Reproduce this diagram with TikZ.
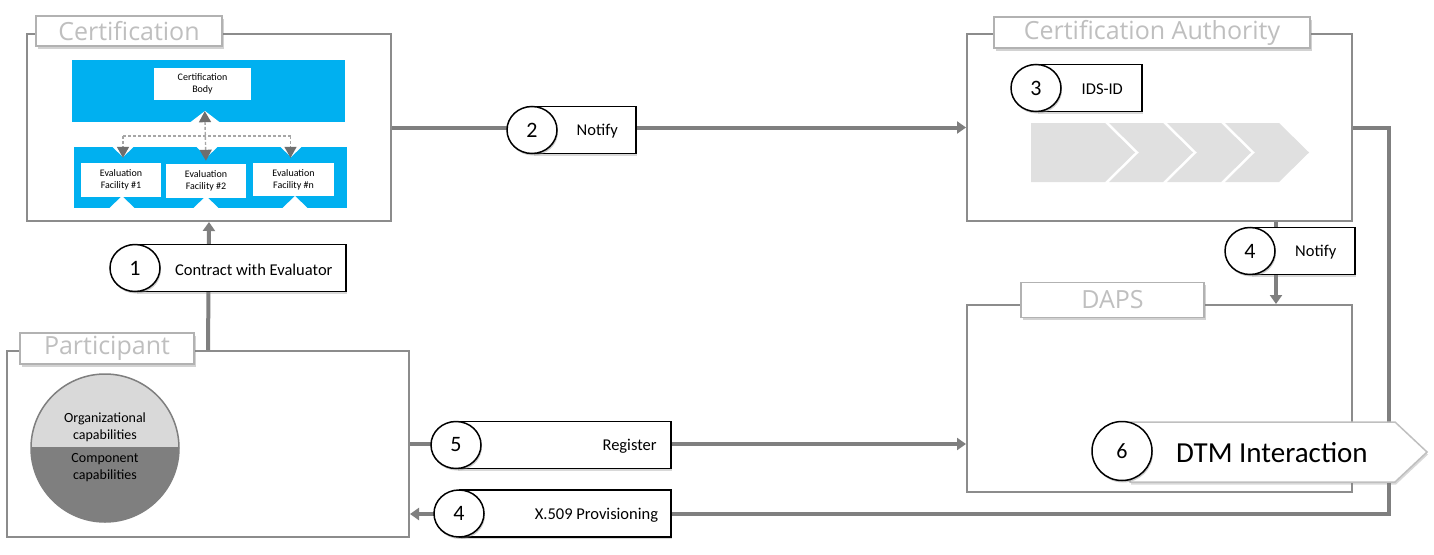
\documentclass[tikz,border=0pt]{standalone}
\usepackage{fontspec}
\setmainfont{Carlito}
\newfontfamily\titlefont{Open Sans}
\usetikzlibrary{arrows.meta,calc,shapes.geometric,shadows}

\definecolor{linegray}{HTML}{7F7F7F}
\definecolor{boxgray}{HTML}{8C8C8C}
\definecolor{titlegray}{HTML}{BFBFBF}
\definecolor{idsblue}{HTML}{00B0F0}
\definecolor{chevgray}{HTML}{E0E0E0}
\definecolor{lightcap}{HTML}{D9D9D9}
\definecolor{darkcap}{HTML}{7F7F7F}
\definecolor{tipgray}{HTML}{6E6E6E}

\tikzset{
  box/.style={draw=boxgray, line width=2pt, fill=white, inner sep=0pt},
  tab/.style={draw=titlegray!80!gray, line width=1.5pt, fill=white, inner sep=0pt,
    text=titlegray, font=\titlefont\fontsize{25}{28}\selectfont,
    drop shadow={opacity=0.35, shadow xshift=1.5pt, shadow yshift=-2.5pt}},
  flow/.style={draw=linegray, line width=4pt, -{Triangle[width=12pt,length=9pt]}},
  dashline/.style={draw=gray!70, line width=1.4pt, dash pattern=on 3pt off 2pt},
  dtip/.style={-{Triangle[width=12pt,length=11pt,color=tipgray]}},
  facility/.style={fill=white, inner sep=0pt, align=center,
    font=\fontsize{10}{12}\selectfont},
  steprect/.style={draw=black, line width=1.8pt, fill=white, minimum height=47pt,
    inner sep=0pt, drop shadow={opacity=0.3, shadow xshift=1pt, shadow yshift=-2pt}},
  stepcircle/.style={ellipse, draw=black, line width=1.5pt, fill=white,
    minimum width=50pt, minimum height=47pt, inner sep=0pt,
    font=\fontsize{22}{24}\selectfont,
    drop shadow={opacity=0.4, shadow xshift=1pt, shadow yshift=-2pt}},
  steptext/.style={font=\fontsize{16.5}{18}\selectfont, inner sep=0pt},
  captext/.style={align=center, inner sep=0pt, font=\fontsize{14}{17}\selectfont},
}

% numbered step: [text options]{name}{circle centre}{number}{width}{text}
\newcommand{\stepmark}[6][]{%
  \node[steprect, minimum width=#5, anchor=west] (#2r) at (#3) {};
  \node[stepcircle] (#2c) at (#3) {#4};
  \node[steptext, #1] (#2t) at ($(#2c.east)!0.5!(#2r.east)+(0,1.5)$) {#6};
}

\begin{document}
\begin{tikzpicture}[x=1pt, y=-1pt]
  \useasboundingbox[fill=white] (0,0) rectangle (1434,554);

  % Boxes
  \node[box, minimum width=364pt, minimum height=187pt] (cert) at (209,127.5) {};
  \node[box, minimum width=385pt, minimum height=187pt] (ca) at (1159.5,127.5) {};
  \node[box, minimum width=385pt, minimum height=187pt] (daps) at (1159.5,398.5) {};
  \node[box, minimum width=402pt, minimum height=186pt] (part) at (208,444) {};

  % Titles
  \node[tab, minimum width=186pt, minimum height=30pt] (certT) at (129,31) {Certification};
  \node[tab, minimum width=316pt, minimum height=31pt] (caT) at (1152,32.5) {Certification Authority};
  \node[tab, minimum width=183pt, minimum height=35pt] (dapsT) at (1112.5,300) {DAPS};
  \node[tab, minimum width=174pt, minimum height=31pt] (partT) at (107,348.5) {Participant};

  % Certification body and evaluation facilities
  \fill[idsblue] (72,60) rectangle (345,122);
  \fill[white] (190,122.5) -- (205,111) -- (220,122.5) -- cycle;
  \fill[idsblue] (74,147) rectangle (347,208);
  \foreach \x in {123,207,291}
    \fill[white] (\x-11,146.5) -- (\x,157) -- (\x+11,146.5) -- cycle;
  \foreach \x in {122,206,295}
    \fill[white] (\x-13,208.5) -- (\x,196) -- (\x+13,208.5) -- cycle;
  \node[facility, minimum width=97pt, minimum height=32pt] (body) at (202.5,84) {Certification\\Body};
  \node[facility, minimum width=80pt, minimum height=34pt] (fac1) at (121,180) {Evaluation\\Facility \#1};
  \node[facility, minimum width=80pt, minimum height=34pt] (fac2) at (206,181) {Evaluation\\Facility \#2};
  \node[facility, minimum width=81pt, minimum height=33pt] (facn) at (293.5,179.5) {Evaluation\\Facility \#n};

  \coordinate (hub) at (206,136);
  \draw[dashline] ([xshift=2pt]hub -| fac1.north) -- ([xshift=-3pt]hub -| facn.north);
  \draw[dashline, dtip, shorten >=5pt] ([xshift=2pt]hub -| fac1.north) -- ([xshift=2pt]fac1.north);
  \draw[dashline, dtip, shorten >=5pt] ([xshift=-3pt]hub -| facn.north) -- ([xshift=-3pt]facn.north);
  \draw[dashline, {Triangle[width=12pt,length=11pt,color=tipgray]}-{Triangle[width=12pt,length=11pt,color=tipgray]},
    shorten <=11pt, shorten >=3pt] ([xshift=2pt]body.south) -- (fac2.north);

  % Chevrons
  \fill[chevgray] (1031,123) -- (1105,123) -- (1135,152.5) -- (1105,182) -- (1031,182) -- cycle;
  \foreach \l/\t in {1109/1193,1167/1251,1225/1309}
    \fill[chevgray] (\l,123) -- (\t-30,123) -- (\t,152.5) -- (\t-30,182)
      -- (\l,182) -- (\l+30,152.5) -- cycle;

  % Participant capabilities
  \begin{scope}
    \clip (105,448) circle[radius=74pt];
    \fill[lightcap] (30,373) rectangle (180,448);
    \fill[darkcap] (30,448) rectangle (180,523);
  \end{scope}
  \draw[linegray, line width=1.5pt] (31,448) -- (179,448);
  \draw[linegray, line width=1.5pt] (105,448) circle[radius=74pt];
  \node[captext] (orgcap) at (105,427) {Organizational\\capabilities};
  \node[captext] (compcap) at (105,468) {Component\\capabilities};

  % Connectors
  \draw[flow] (part.north) -- (cert.south);
  \draw[flow] (cert.east) -- (ca.west);
  \draw[flow] (part.east) -- (part.east -| daps.west);
  \coordinate (n4) at (1276,0);
  \draw[flow] (ca.south -| n4) -- (daps.north -| n4);
  \coordinate (ret) at (1389,514);
  \draw[flow] (ca.east) -| (ret) -- (ret -| part.east);

  % Steps
  \stepmark{s1}{135,268}{1}{210pt}{Contract with Evaluator}
  \stepmark{s2}{532,130}{2}{103pt}{Notify}
  \stepmark{s3}{1036,88}{3}{105pt}{IDS-ID}
  \stepmark{s4n}{1250,251}{4}{104pt}{Notify}
  \stepmark[anchor=east, xshift=80pt]{s5}{456,445}{5}{214pt}{Register}
  \stepmark[anchor=east, xshift=80pt]{s4}{459,513.5}{4}{211pt}{X.509 Provisioning}

  % DTM interaction
  \draw[titlegray, line width=1.5pt, fill=white,
    drop shadow={opacity=0.3, shadow xshift=1pt, shadow yshift=-2.5pt}]
    (1130,422) -- (1395,422) -- (1427,452) -- (1395,482) -- (1130,482) -- cycle;
  \node[stepcircle, minimum width=60pt, minimum height=59pt] (s6c) at (1122,451) {6};
  \node[steptext, font=\fontsize{29}{31}\selectfont, anchor=west] (s6t) at (1176,453) {DTM Interaction};
\end{tikzpicture}
\end{document}
